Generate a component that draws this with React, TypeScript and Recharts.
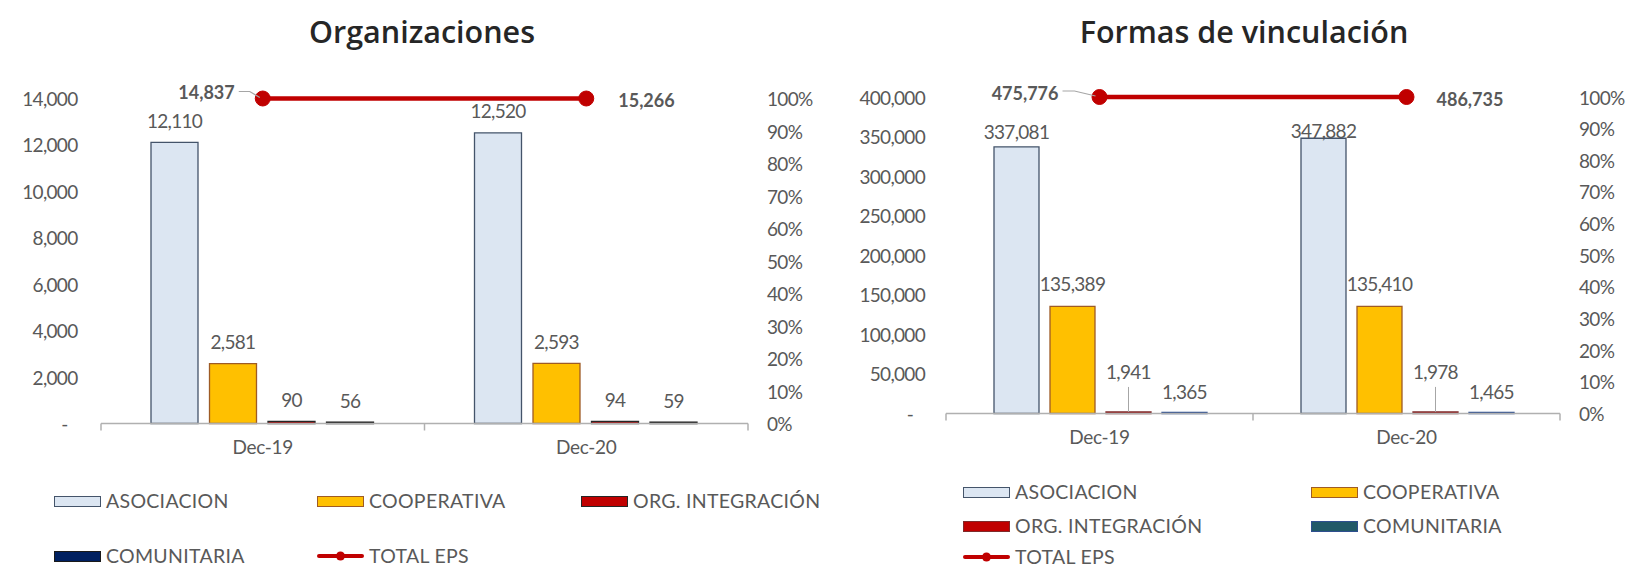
import React from 'react';
import { ComposedChart, Bar, Line, XAxis, YAxis, LabelList } from 'recharts';

// ---------------- data ----------------
const categories = ['Dec-19', 'Dec-20'];

const orgAsociacion = [12110, 12520];
const orgCooperativa = [2581, 2593];
const orgIntegracion = [90, 94];
const orgComunitaria = [56, 59];
const orgTotal = [14837, 15266];

const vinAsociacion = [337081, 347882];
const vinCooperativa = [135389, 135410];
const vinIntegracion = [1941, 1978];
const vinComunitaria = [1365, 1465];
const vinTotal = [475776, 486735];

// TOTAL EPS line is drawn at 100% of the secondary axis
const totalShare = [100, 100];

const orgTicks = [0, 2000, 4000, 6000, 8000, 10000, 12000, 14000];
const vinTicks = [0, 50000, 100000, 150000, 200000, 250000, 300000, 350000, 400000];
const pctTicks = [0, 10, 20, 30, 40, 50, 60, 70, 80, 90, 100];

const seriesNames = ['ASOCIACION', 'COOPERATIVA', 'ORG. INTEGRACIÓN', 'COMUNITARIA'];
const lineName = 'TOTAL EPS';
const titles = ['Organizaciones', 'Formas de vinculación'];

// ---------------- styles ----------------
const FONT = 'Lato, "Open Sans", sans-serif';
const GRAY = '#595959';
const RED = '#C00000';

const orgColors = [
  { fill: '#DCE6F2', stroke: '#44546A' },
  { fill: '#FFC000', stroke: '#9E5B25' },
  { fill: '#C00000', stroke: '#262626' },
  { fill: '#002060', stroke: '#1A1A1A' },
];
const vinColors = [
  { fill: '#DCE6F2', stroke: '#44546A' },
  { fill: '#FFC000', stroke: '#9E5B25' },
  { fill: '#C00000', stroke: '#7F2A2A' },
  { fill: '#215968', stroke: '#2E4F8F' },
];

const fmt = (v: number) => Number(v).toLocaleString('en-US');

const buildRows = (cols: number[][]) =>
  categories.map((cat, i) => ({
    cat,
    s0: cols[0][i],
    s1: cols[1][i],
    s2: cols[2][i],
    s3: cols[3][i],
    share: totalShare[i],
  }));

type Cfg = {
  left: number;
  width: number;
  leftAxisW: number;
  rightAxisW: number;
  top: number;
  bottom: number;
  catGap: number;
  barGap: number;
  yMax: number;
  yTicks: number[];
  yTickMargin: number;
  pctTickMargin: number;
  zeroShift: number;
  cols: number[][];
  colors: { fill: string; stroke: string }[];
  totals: number[];
  lifts: number[][];
  leaders: boolean[];
  ll: { dx0: number; dy0: number; lead: number[][]; dx1: number; dy1: number };
};

const H = 568;
const X_AXIS_H = 40;

function getBox(props: any) {
  const vb = props.viewBox && typeof props.viewBox.x === 'number' ? props.viewBox : props;
  return {
    x: Number(vb.x ?? props.x),
    y: Number(vb.y ?? props.y),
    w: Number(vb.width ?? props.width ?? 0),
  };
}

function Panel({ cfg }: { cfg: Cfg }) {
  const rows = buildRows(cfg.cols);
  const plotW = cfg.width - cfg.leftAxisW - cfg.rightAxisW;
  const half = plotW / rows.length / 2;

  const catTick = (props: any) => {
    const { x, y, payload, index } = props;
    const hb = payload && payload.offset ? payload.offset : half;
    const last = index === rows.length - 1;
    return (
      <g>
        <line x1={x - hb} y1={y} x2={x - hb} y2={y + 7} stroke="#B0B0B0" strokeWidth={1.5} />
        {last && <line x1={x + hb} y1={y} x2={x + hb} y2={y + 7} stroke="#B0B0B0" strokeWidth={1.5} />}
        <text
          x={x}
          y={y + 23}
          textAnchor="middle"
          dominantBaseline="central"
          fill={GRAY}
          fontSize={19}
          fontFamily={FONT}
          letterSpacing={-0.3}
        >
          {payload.value}
        </text>
      </g>
    );
  };

  const yTick = (props: any) => {
    const { x, y, payload } = props;
    const v = payload.value;
    return (
      <text
        x={v === 0 ? x - cfg.zeroShift : x}
        y={y}
        textAnchor="end"
        dominantBaseline="central"
        fill={GRAY}
        fontSize={19}
        fontFamily={FONT}
        letterSpacing={-0.7}
      >
        {v === 0 ? '-' : fmt(v)}
      </text>
    );
  };

  const pctTick = (props: any) => {
    const { x, y, payload } = props;
    return (
      <text
        x={x}
        y={y}
        textAnchor="start"
        dominantBaseline="central"
        fill={GRAY}
        fontSize={19}
        fontFamily={FONT}
        letterSpacing={-0.7}
      >
        {`${payload.value}%`}
      </text>
    );
  };

  const barLabel = (si: number) => (props: any) => {
    const { x, y, w } = getBox(props);
    const idx = props.index ?? 0;
    const cx = x + w / 2;
    const ty = y - cfg.lifts[si][idx];
    return (
      <g>
        {cfg.leaders[si] && (
          <line x1={cx} y1={ty + 15} x2={cx} y2={y} stroke="#A6A6A6" strokeWidth={1} />
        )}
        <text
          x={cx}
          y={ty}
          textAnchor="middle"
          dominantBaseline="central"
          fill={GRAY}
          fontSize={19}
          fontFamily={FONT}
          letterSpacing={-0.7}
        >
          {fmt(cfg.cols[si][idx])}
        </text>
      </g>
    );
  };

  const lineLabel = (props: any) => {
    const { x, y } = getBox(props);
    const idx = props.index ?? 0;
    const val = fmt(cfg.totals[idx]);
    if (idx === 0) {
      const pts = cfg.ll.lead.map((p) => `${x + p[0]},${y + p[1]}`).join(' ');
      return (
        <g>
          <polyline points={pts} fill="none" stroke="#A6A6A6" strokeWidth={1.2} />
          <text
            x={x + cfg.ll.dx0}
            y={y + cfg.ll.dy0}
            textAnchor="end"
            dominantBaseline="central"
            fill={GRAY}
            fontSize={18}
            fontWeight={700}
            fontFamily={FONT}
          >
            {val}
          </text>
        </g>
      );
    }
    return (
      <text
        x={x + cfg.ll.dx1}
        y={y + cfg.ll.dy1}
        textAnchor="start"
        dominantBaseline="central"
        fill={GRAY}
        fontSize={18}
        fontWeight={700}
        fontFamily={FONT}
      >
        {val}
      </text>
    );
  };

  return (
    <div style={{ position: 'absolute', left: cfg.left, top: 0, width: cfg.width, height: H }}>
      <ComposedChart
        width={cfg.width}
        height={H}
        data={rows}
        margin={{ top: cfg.top, right: 0, bottom: H - cfg.bottom - X_AXIS_H, left: 0 }}
        barCategoryGap={cfg.catGap}
        barGap={cfg.barGap}
      >
        <XAxis
          dataKey="cat"
          height={X_AXIS_H}
          tickSize={0}
          tickMargin={0}
          tickLine={false}
          axisLine={{ stroke: '#B0B0B0', strokeWidth: 1.5 }}
          tick={catTick}
          interval={0}
        />
        <YAxis
          yAxisId="count"
          width={cfg.leftAxisW}
          domain={[0, cfg.yMax]}
          ticks={cfg.yTicks}
          axisLine={false}
          tickLine={false}
          tickSize={0}
          tickMargin={cfg.yTickMargin}
          tick={yTick}
          interval={0}
        />
        <YAxis
          yAxisId="pct"
          orientation="right"
          width={cfg.rightAxisW}
          domain={[0, 100]}
          ticks={pctTicks}
          axisLine={false}
          tickLine={false}
          tickSize={0}
          tickMargin={cfg.pctTickMargin}
          tick={pctTick}
          interval={0}
        />
        {[0, 1, 2, 3].map((si) => (
          <Bar
            key={si}
            dataKey={`s${si}`}
            yAxisId="count"
            name={seriesNames[si]}
            fill={cfg.colors[si].fill}
            stroke={cfg.colors[si].stroke}
            strokeWidth={1.3}
            isAnimationActive={false}
          >
            <LabelList content={barLabel(si)} />
          </Bar>
        ))}
        <Line
          dataKey="share"
          yAxisId="pct"
          name={lineName}
          stroke={RED}
          strokeWidth={4.5}
          dot={{ r: 7.5, fill: RED, stroke: RED, strokeWidth: 1, clipDot: false } as any}
          activeDot={false}
          isAnimationActive={false}
        >
          <LabelList content={lineLabel} />
        </Line>
      </ComposedChart>
    </div>
  );
}

function LegendItem({ x, y, si, colors, line }: any) {
  return (
    <div
      style={{
        position: 'absolute',
        left: x,
        top: y,
        transform: 'translateY(-50%)',
        display: 'flex',
        alignItems: 'center',
        whiteSpace: 'nowrap',
      }}
    >
      {line ? (
        <svg width={47} height={12} style={{ display: 'block' }}>
          <line x1={2} y1={6} x2={45} y2={6} stroke={RED} strokeWidth={4} strokeLinecap="round" />
          <circle cx={23.5} cy={6} r={4.5} fill={RED} />
        </svg>
      ) : (
        <div
          style={{
            width: 47,
            height: 11,
            boxSizing: 'border-box',
            background: colors[si].fill,
            border: `1.5px solid ${colors[si].stroke}`,
          }}
        />
      )}
      <span
        style={{
          marginLeft: 5,
          fontSize: 19.5,
          color: GRAY,
          letterSpacing: 0.3,
          lineHeight: '18px',
          fontFamily: FONT,
        }}
      >
        {line ? lineName : seriesNames[si]}
      </span>
    </div>
  );
}

const leftCfg: Cfg = {
  left: 0,
  width: 820,
  leftAxisW: 101,
  rightAxisW: 72,
  top: 98.5,
  bottom: 423.5,
  catGap: 50,
  barGap: 11.5,
  yMax: 14000,
  yTicks: orgTicks,
  yTickMargin: 23.5,
  pctTickMargin: 19,
  zeroShift: 10,
  cols: [orgAsociacion, orgCooperativa, orgIntegracion, orgComunitaria],
  colors: orgColors,
  totals: orgTotal,
  lifts: [
    [22, 22],
    [22, 22],
    [22, 22],
    [22, 22],
  ],
  leaders: [false, false, false, false],
  ll: {
    dx0: -28,
    dy0: -7,
    lead: [
      [-24, -7],
      [-13, -7],
      [-3, -1],
    ],
    dx1: 32,
    dy1: 1,
  },
};

const rightCfg: Cfg = {
  left: 820,
  width: 807,
  leftAxisW: 126,
  rightAxisW: 67,
  top: 97,
  bottom: 413.5,
  catGap: 48,
  barGap: 11,
  yMax: 400000,
  yTicks: vinTicks,
  yTickMargin: 21,
  pctTickMargin: 19,
  zeroShift: 12,
  cols: [vinAsociacion, vinCooperativa, vinIntegracion, vinComunitaria],
  colors: vinColors,
  totals: vinTotal,
  lifts: [
    [15, 8],
    [23, 23],
    [40, 40],
    [21, 21],
  ],
  leaders: [false, false, true, false],
  ll: {
    dx0: -41,
    dy0: -4,
    lead: [
      [-37, -6],
      [-25, -6],
      [-4, -1],
    ],
    dx1: 30,
    dy1: 2,
  },
};

export default function App() {
  const titleStyle: React.CSSProperties = {
    position: 'absolute',
    top: 31,
    transform: 'translate(-50%, -50%)',
    fontFamily: '"Open Sans", Lato, sans-serif',
    fontWeight: 600,
    fontSize: 30.5,
    color: '#262626',
    whiteSpace: 'nowrap',
  };
  return (
    <div
      style={{
        position: 'absolute',
        left: 0,
        top: 0,
        width: 1627,
        height: 568,
        background: '#ffffff',
        fontFamily: FONT,
        overflow: 'hidden',
      }}
    >
      <Panel cfg={leftCfg} />
      <Panel cfg={rightCfg} />
      <div style={{ ...titleStyle, left: 422 }}>{titles[0]}</div>
      <div style={{ ...titleStyle, left: 1244 }}>{titles[1]}</div>

      {/* left legend */}
      <LegendItem x={54} y={501} si={0} colors={orgColors} />
      <LegendItem x={317} y={501} si={1} colors={orgColors} />
      <LegendItem x={581} y={501} si={2} colors={orgColors} />
      <LegendItem x={54} y={556} si={3} colors={orgColors} />
      <LegendItem x={317} y={556} line />

      {/* right legend */}
      <LegendItem x={963} y={492} si={0} colors={vinColors} />
      <LegendItem x={1311} y={492} si={1} colors={vinColors} />
      <LegendItem x={963} y={526} si={2} colors={vinColors} />
      <LegendItem x={1311} y={526} si={3} colors={vinColors} />
      <LegendItem x={963} y={557} line />
    </div>
  );
}
